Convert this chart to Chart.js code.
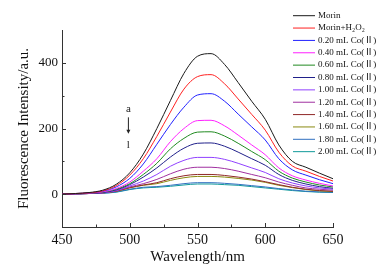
<!DOCTYPE html>
<html>
<head>
<meta charset="utf-8">
<script src="https://cdn.jsdelivr.net/npm/chart.js@4.4.1/dist/chart.umd.min.js"></script>
<style>
  body { margin: 0; background: #fff; }
  #grafico { display: block; }
</style>
</head>
<body>
<canvas id="grafico" width="391" height="280"></canvas>
<script>
// comprimento de onda (nm)
const wavelength = [450, 460, 470, 480, 490, 500, 510, 520, 530, 540, 550, 560, 570, 580, 590, 600, 610, 620, 630, 640, 650];

const morin      = [0, 2, 5, 12, 30, 65, 122, 200, 285, 368, 420, 428, 395, 340, 283, 228, 150, 100, 82, 64, 47];
const morinH2O2  = [0, 2, 4, 10, 26, 58, 108, 176, 250, 320, 358, 364, 336, 290, 243, 195, 128, 86, 70, 54, 40];
const co020 = [0, 2, 4, 9, 22, 48, 92, 152, 212, 265, 302, 306, 283, 244, 205, 165, 108, 74, 58, 44, 32];
const co040 = [0, 1, 3, 7, 17, 37, 70, 108, 160, 200, 224, 225, 208, 180, 150, 120, 80, 56, 43, 33, 25];
const co060 = [0, 1, 3, 6, 15, 32, 60, 94, 138, 170, 189, 190, 177, 155, 130, 105, 70, 49, 37, 28, 22];
const co080 = [0, 1, 2, 5, 13, 29, 52, 80, 113, 140, 155, 156, 146, 128, 108, 88, 60, 42, 31, 23, 18];
const co100 = [0, 1, 2, 4, 11, 25, 40, 60, 85, 103, 112, 112, 106, 94, 80, 66, 47, 34, 25, 19, 15];
const co120 = [0, 1, 2, 4, 10, 22, 32, 45, 62, 76, 82, 82, 78, 70, 60, 50, 37, 27, 19, 15, 12];
const co140 = [0, 1, 2, 4, 9, 20, 28, 35, 47, 56, 60, 60, 57, 52, 46, 38, 29, 21, 15, 11, 9];
const co160 = [0, 1, 2, 4, 9, 19, 27, 32, 42, 50, 54, 54, 52, 48, 43, 36, 27, 20, 14, 10, 8];
const co180 = [0, 1, 2, 3, 7, 15, 21, 23, 27, 32, 35, 35, 33, 30, 26, 22, 17, 13, 9, 7, 6];
const co200 = [0, 1, 2, 3, 6, 14, 19, 21, 24, 28, 31, 31, 29, 27, 23, 19, 15, 11, 8, 6, 5];

const series = [morin, morinH2O2, co020, co040, co060, co080, co100, co120, co140, co160, co180, co200];
const legendas = ['Morin', 'Morin+H\u2082O\u2082', '0.20 mL Co(\u2161)', '0.40 mL Co(\u2161)', '0.60 mL Co(\u2161)',
  '0.80 mL Co(\u2161)', '1.00 mL Co(\u2161)', '1.20 mL Co(\u2161)', '1.40 mL Co(\u2161)', '1.60 mL Co(\u2161)',
  '1.80 mL Co(\u2161)', '2.00 mL Co(\u2161)'];
const cores = ['#1a1a1a', '#ff2020', '#2020ff', '#ff20ff', '#208a20', '#20208a', '#9040ff', '#a030a0',
  '#902828', '#8a8a10', '#3070c0', '#109a9a'];

const serif = "'Liberation Serif', 'Times New Roman', serif";
const serifCJK = "'Liberation Serif', 'Noto Sans CJK SC', serif";

const datasets = series.map((s, i) => ({
  label: legendas[i],
  data: s.map((v, j) => ({ x: wavelength[j], y: v })),
  borderColor: cores[i],
  backgroundColor: cores[i],
  borderWidth: 1,
  pointRadius: 0,
  cubicInterpolationMode: 'monotone',
  fill: false
}));

// ticks para dentro, legenda e seta a -> l
const extras = {
  id: 'extras',
  afterDraw(chart) {
    const ctx = chart.ctx;
    const xs = chart.scales.x, ys = chart.scales.y;
    const area = chart.chartArea;
    ctx.save();
    ctx.strokeStyle = '#333';
    ctx.lineWidth = 1;
    for (let v = 475; v <= 650; v += 25) {
      const px = Math.round(xs.getPixelForValue(v)) + 0.5;
      const len = v % 50 === 0 ? 4 : 2.5;
      ctx.beginPath();
      ctx.moveTo(px, area.bottom);
      ctx.lineTo(px, area.bottom - len);
      ctx.stroke();
    }
    for (let v = 0; v <= 400; v += 100) {
      const py = Math.round(ys.getPixelForValue(v)) + 0.5;
      const len = v % 200 === 0 ? 4 : 2.5;
      ctx.beginPath();
      ctx.moveTo(area.left, py);
      ctx.lineTo(area.left + len, py);
      ctx.stroke();
    }

    // legenda
    ctx.font = '9px ' + serifCJK;
    ctx.textBaseline = 'middle';
    ctx.textAlign = 'left';
    chart.data.datasets.forEach((d, i) => {
      const y = 15.7 + i * 12.36;
      ctx.strokeStyle = d.borderColor;
      ctx.beginPath();
      ctx.moveTo(293, y);
      ctx.lineTo(315, y);
      ctx.stroke();
      ctx.fillStyle = '#111';
      ctx.fillText(d.label, 318, y);
    });

    // a -> l
    const ax = xs.getPixelForValue(499);
    ctx.font = '11px ' + serif;
    ctx.textAlign = 'center';
    ctx.fillStyle = '#222';
    ctx.fillText('a', ax, ys.getPixelForValue(258));
    ctx.fillText('l', ax, ys.getPixelForValue(148));
    const y1 = ys.getPixelForValue(234), y2 = ys.getPixelForValue(184);
    ctx.strokeStyle = '#222';
    ctx.beginPath();
    ctx.moveTo(ax, y1);
    ctx.lineTo(ax, y2 - 3);
    ctx.stroke();
    ctx.beginPath();
    ctx.moveTo(ax - 2, y2 - 4);
    ctx.lineTo(ax + 2, y2 - 4);
    ctx.lineTo(ax, y2);
    ctx.closePath();
    ctx.fill();
    ctx.restore();
  }
};

const config = {
  type: 'line',
  data: { datasets: datasets },
  options: {
    responsive: false,
    animation: false,
    devicePixelRatio: 1,
    layout: { padding: { top: 30, right: 58, left: 0, bottom: 0 } },
    plugins: { legend: { display: false }, tooltip: { enabled: false } },
    scales: {
      x: {
        type: 'linear',
        min: 450,
        max: 650,
        afterFit: (s) => { s.height = 53; },
        grid: { display: false, drawTicks: false },
        border: { display: true, color: '#333', width: 1 },
        ticks: {
          stepSize: 50,
          padding: 5,
          color: '#111',
          font: { family: serif, size: 14 }
        },
        title: {
          display: true,
          text: 'Wavelength/nm',
          color: '#111',
          font: { family: serif, size: 15 },
          padding: { top: 0, bottom: 14 }
        }
      },
      y: {
        min: -100,
        max: 500,
        afterFit: (s) => { s.width = 62; },
        grid: { display: false, drawTicks: false },
        border: { display: true, color: '#333', width: 1 },
        ticks: {
          stepSize: 100,
          padding: 4,
          color: '#111',
          font: { family: serif, size: 13 },
          callback: (v) => (v >= 0 && v % 200 === 0) ? v : ''
        },
        title: {
          display: true,
          text: 'Fluorescence Intensity/a.u.',
          color: '#111',
          font: { family: serif, size: 15 },
          padding: { top: 15, bottom: 0 }
        }
      }
    }
  },
  plugins: [extras]
};

const grafico = new Chart(document.getElementById('grafico'), config);
</script>
</body>
</html>
